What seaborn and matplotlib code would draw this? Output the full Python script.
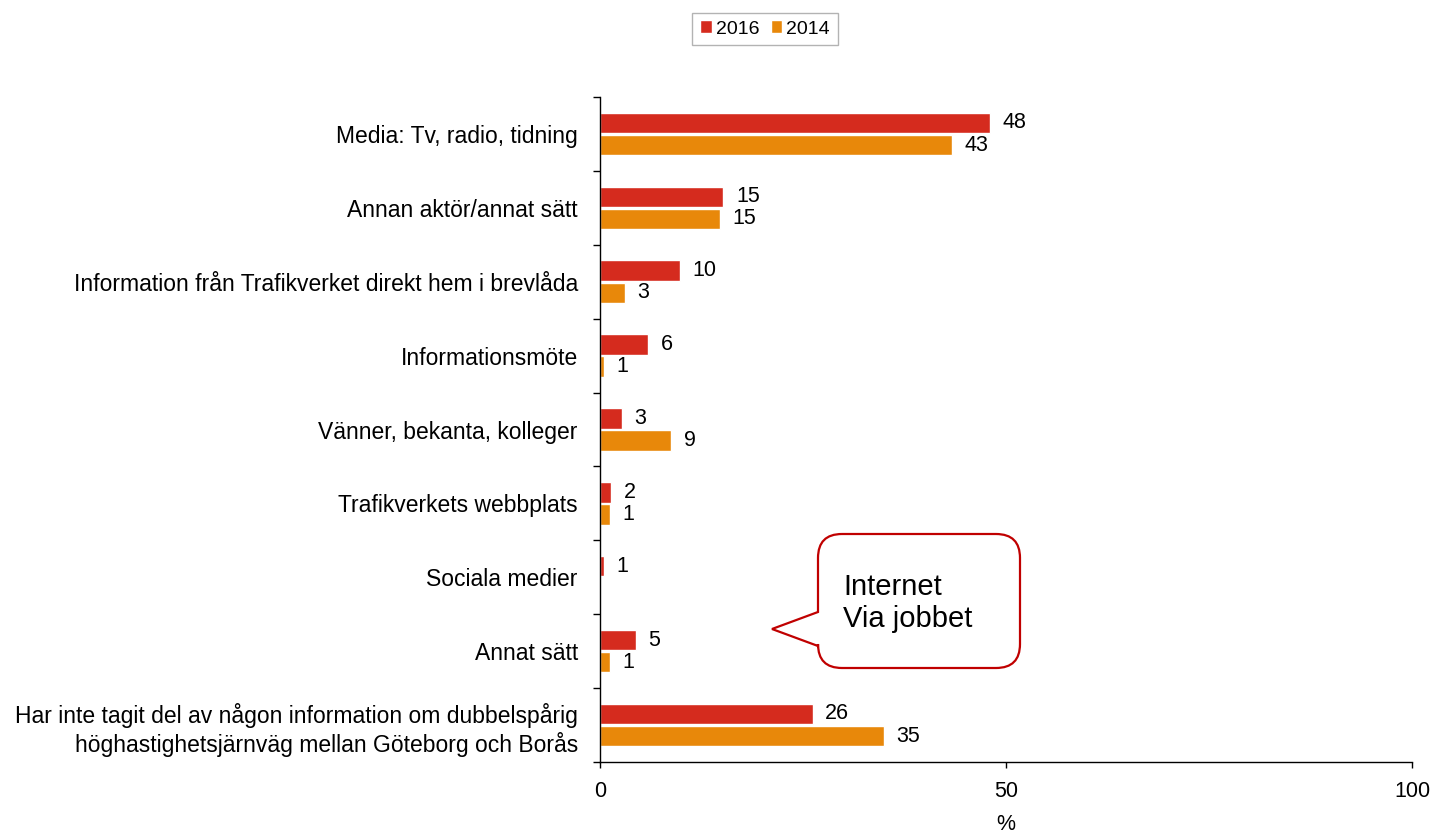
import numpy as np
import pandas as pd
import matplotlib
matplotlib.use("Agg")
import matplotlib.pyplot as plt
import seaborn as sns
from matplotlib.path import Path
from matplotlib.patches import PathPatch, Patch

# Data
categories = [
    "Media: Tv, radio, tidning",
    "Annan aktör/annat sätt",
    "Information från Trafikverket direkt hem i brevlåda",
    "Informationsmöte",
    "Vänner, bekanta, kolleger",
    "Trafikverkets webbplats",
    "Sociala medier",
    "Annat sätt",
    "Har inte tagit del av någon information om dubbelspårig\nhöghastighetsjärnväg mellan Göteborg och Borås",
]
values_2016 = [48, 15.2, 9.8, 5.9, 2.7, 1.4, 0.5, 4.4, 26.2]
values_2014 = [43.3, 14.8, 3.1, 0.5, 8.8, 1.2, 0, 1.2, 35]
labels_2016 = ["48", "15", "10", "6", "3", "2", "1", "5", "26"]
labels_2014 = ["43", "15", "3", "1", "9", "1", "", "1", "35"]
years = ["2016", "2014"]
colors = ["#D52B1E", "#E8880A"]

df = pd.DataFrame({
    "kategori": categories * 2,
    "procent": values_2016 + values_2014,
    "år": ["2016"] * len(categories) + ["2014"] * len(categories),
})

sns.set_style("white")
plt.rcParams["font.family"] = ["Liberation Sans", "DejaVu Sans"]
plt.rcParams["text.color"] = "black"
plt.rcParams["axes.labelcolor"] = "black"
plt.rcParams["xtick.color"] = "black"
plt.rcParams["ytick.color"] = "black"

fig = plt.figure(figsize=(14.35, 8.34), dpi=100)
ax = fig.add_axes([600 / 1435, 1 - 762 / 834, 812 / 1435, 665 / 834])

sns.barplot(data=df, x="procent", y="kategori", hue="år", hue_order=years,
            palette=colors, orient="h", width=0.6, gap=0.08,
            saturation=1, legend=False, ax=ax)

for cont, labs in zip(ax.containers, [labels_2016, labels_2014]):
    ax.bar_label(cont, labels=labs, padding=9, fontsize=15.5)

ax.set_xlim(0, 100)
ax.set_ylim(len(categories) - 0.5, -0.5)
ax.set_xticks([0, 50, 100])
ax.set_xlabel("%", fontsize=15.5, labelpad=9)
ax.set_ylabel("")
ax.tick_params(axis="x", labelsize=15.5, length=4.5, width=1,
               direction="out", bottom=True, pad=9)
ax.tick_params(axis="y", which="major", labelsize=16.5, length=0, pad=16)
ax.set_yticks(np.arange(-0.5, len(categories), 1), minor=True)
ax.tick_params(axis="y", which="minor", length=5, width=1,
               direction="out", left=True)
for lab in ax.get_yticklabels():
    lab.set_horizontalalignment("right")
    lab.set_multialignment("right")

for s in ["top", "right"]:
    ax.spines[s].set_visible(False)
for s in ["left", "bottom"]:
    ax.spines[s].set_color("black")
    ax.spines[s].set_linewidth(1)

handles = [Patch(facecolor=c, label=y) for c, y in zip(colors, years)]
fig.legend(handles=handles, loc="center", bbox_to_anchor=(765 / 1435, 1 - 29 / 834),
           ncol=2, fontsize=14, frameon=True, fancybox=False, edgecolor="#A0A0A0",
           handlelength=0.6, handleheight=0.6, handletextpad=0.2, columnspacing=0.6,
           borderpad=0.4)

# callout bubble (pixel coords of image, y downwards)
W, H = 1435, 834
L, R, T, B, r = 818, 1020, 534, 668, 24
pts = [
    (L + r, T), (R - r, T), (R, T), (R, T + r), (R, B - r), (R, B), (R - r, B),
    (L + r, B), (L, B), (L, B - r), (L, 646), (772, 629), (L, 612), (L, T + r),
    (L, T), (L + r, T),
]
codes = [Path.MOVETO, Path.LINETO, Path.CURVE3, Path.CURVE3, Path.LINETO,
         Path.CURVE3, Path.CURVE3, Path.LINETO, Path.CURVE3, Path.CURVE3,
         Path.LINETO, Path.LINETO, Path.LINETO, Path.LINETO, Path.CURVE3,
         Path.CURVE3]
verts = [(x / W, 1 - y / H) for x, y in pts]
bubble = PathPatch(Path(verts, codes), transform=fig.transFigure,
                   facecolor="white", edgecolor="#C00000", linewidth=1.6, zorder=5)
fig.patches.append(bubble)
fig.text(843 / W, 1 - 603 / H, "Internet\nVia jobbet", fontsize=21,
         ha="left", va="center", linespacing=1.2, zorder=6)

fig.savefig("out.png", dpi=100)
